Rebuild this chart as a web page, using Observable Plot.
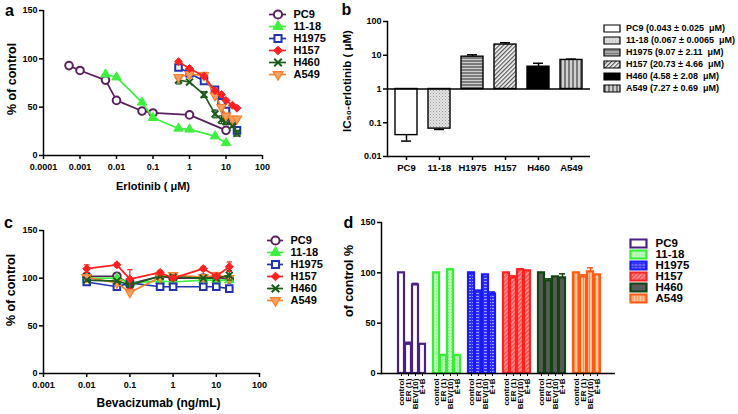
<!DOCTYPE html>
<html><head><meta charset="utf-8">
<script src="https://cdn.jsdelivr.net/npm/d3@7"></script>
<script src="https://cdn.jsdelivr.net/npm/@observablehq/plot@0.6"></script>
<style>
body{margin:0;background:#fff;}
#fig{position:relative;width:738px;height:414px;overflow:hidden;font-family:'Liberation Sans',Arial,sans-serif;font-weight:bold;}
</style></head><body>
<svg width="0" height="0" style="position:absolute">
<defs>
<pattern id="pb1118" width="3" height="3" patternUnits="userSpaceOnUse"><rect width="3" height="3" fill="#e4e4e4"/><rect width="1" height="1" fill="#9a9a9a"/><rect x="1.5" y="1.5" width="1" height="1" fill="#b0b0b0"/></pattern>
<pattern id="pbH1975" width="4" height="3" patternUnits="userSpaceOnUse"><rect width="4" height="3" fill="#7c7c7c"/><rect y="2" width="4" height="1" fill="#cfcfcf"/></pattern>
<pattern id="pbH157" width="3" height="3" patternUnits="userSpaceOnUse" patternTransform="rotate(45)"><rect width="3" height="3" fill="#f4f4f4"/><rect width="1.2" height="3" fill="#555"/></pattern>
<pattern id="pbA549" width="4" height="4" patternUnits="userSpaceOnUse"><rect width="4" height="4" fill="#d0d0d0"/><rect width="2" height="4" fill="#7a7a7a"/></pattern>
<pattern id="pd1118" width="3" height="3" patternUnits="userSpaceOnUse"><rect width="3" height="3" fill="#bdf8bd"/><rect width="1" height="1" fill="#7fe87f"/></pattern>
<pattern id="pdH1975" width="4" height="3" patternUnits="userSpaceOnUse"><rect width="4" height="3" fill="#3030ff"/><rect y="2" width="3" height="1" fill="#a0a0ff"/></pattern>
<pattern id="pdH157" width="3" height="3" patternUnits="userSpaceOnUse" patternTransform="rotate(45)"><rect width="3" height="3" fill="#ff5a5a"/><rect width="1" height="3" fill="#ffa0a0"/></pattern>
<pattern id="pdA549" width="3" height="4" patternUnits="userSpaceOnUse"><rect width="3" height="4" fill="#ffc8a0"/><rect width="1" height="4" fill="#ff8a4a"/></pattern>
</defs></svg>
<div id="fig"></div>
<script>
// ---------- DATA ----------
const lines = ["PC9", "11-18", "H1975", "H157", "H460", "A549"];

// Panel a: erlotinib dose response (% of control)
const erlConcPC9 = [0.0005, 0.001, 0.005, 0.01, 0.05, 0.1, 1, 10];
const erlPC9 = [93, 88, 78, 57, 46, 44, 42, 26];
const erlErrPC9 = [3, 0, 0, 0, 0, 0, 0, 0];
const erlConc1118 = [0.005, 0.01, 0.05, 0.1, 0.5, 1, 5, 10];
const erl1118 = [84, 81, 55, 39, 28, 27, 20, 13];
const erlConcHigh = [0.5, 1, 2.5, 5, 7.5, 10, 15, 20];
const erlH1975 = [91, 85, 77, 68, 55, 46, 36, 26];
const erlH157 = [97, 90, 82, 67, 63, 57, 52, 49];
const erlH460 = [78, 76, 63, 43, 37, 35, 31, 23];
const erlErrH460 = [4, 0, 3, 4, 4, 3, 2, 3];
const erlA549 = [81, 84, 83, 62, 50, 41, 38, 38];
const erlErrA549 = [0, 0, 3, 0, 0, 0, 0, 0];

// Panel b: IC50 of erlotinib (uM) and plotted error
const ic50 = [0.043, 0.067, 9.07, 20.73, 4.58, 7.27];
const ic50Err = [0.0144, 0.0038, 1.22, 2.69, 1.20, 0.40];
const ic50Legend = ["PC9 (0.043 ± 0.025  μM)", "11-18 (0.067 ± 0.0065  μM)", "H1975 (9.07 ± 2.11  μM)",
  "H157 (20.73 ± 4.66  μM)", "H460 (4.58 ± 2.08  μM)", "A549 (7.27 ± 0.69  μM)"];

// Panel c: bevacizumab dose response (% of control)
const bevConc = [0.01, 0.05, 0.1, 0.5, 1, 5, 10, 20];
const bevPC9 = [102, 102, 94, 102, 100, 100, 101, 99];
const bev1118 = [100, 100, 95, 97, 96, 98, 98, 98];
const bevH1975 = [96, 91, 95, 91, 91, 91, 91, 89];
const bevH157 = [110, 114, 99, 106, 100, 110, 102, 112];
const bevErrH157 = [4, 2, 10, 2, 2, 2, 2, 5];
const bevH460 = [98, 97, 93, 102, 101, 100, 100, 103];
const bevErrH460 = [0, 0, 0, 0, 0, 0, 0, 5];
const bevA549 = [101, 95, 85, 101, 103, 101, 103, 100];
const bevErrA549 = [0, 0, 0, 0, 0, 0, 3, 0];

// Panel d: combination (% of control)
const conditions = ["control", "ER (1)", "BEV(10)", "E+B"];
const combPC9 = [100, 29, 88, 29];
const comb1118 = [100, 18, 103, 18];
const combH1975 = [100, 82, 98, 79];
const combH157 = [100, 95, 103, 102];
const combH460 = [100, 92, 96, 95];
const combA549 = [100, 96, 101, 98];
const combErrPC9 = [0, 2, 1.5, 0];
const combErr1118 = [0, 0, 1, 0];
const combErrH1975 = [0, 0, 0, 2];
const combErrH157 = [0, 2, 1, 0];
const combErrH460 = [0, 2, 0, 4];
const combErrA549 = [0, 2, 4, 0];

// ---------- STYLES ----------
const FONT = "'Liberation Sans', Arial, sans-serif";
function sty(fs) { return {background: "transparent", fontFamily: FONT, fontWeight: "bold", fontSize: fs + "px", color: "black", overflow: "visible"}; }
const fig = document.getElementById("fig");
function place(el, left, top) { el.style.position = "absolute"; el.style.left = left + "px"; el.style.top = top + "px"; fig.appendChild(el); }
const s3 = Math.sqrt(3);
const triDown = {draw(ctx, size) { const y = -Math.sqrt(size / (s3 * 3)); ctx.moveTo(0, -y * 2); ctx.lineTo(-s3 * y, y); ctx.lineTo(s3 * y, y); ctx.closePath(); }};
const capSym = {draw(ctx, size) { const w = Math.sqrt(size) / 2; ctx.moveTo(-w, 0); ctx.lineTo(w, 0); }};
const SER = {
  "PC9":   {color: "#5a1f5f", symbol: "circle",   fill: "white",   r: 3.8, sw: 2},
  "11-18": {color: "#3ef03e", symbol: "triangle", fill: "#3ef03e", r: 3.5, sw: 1},
  "H1975": {color: "#2233b0", symbol: "square",   fill: "white",   r: 3.7, sw: 2},
  "H157":  {color: "#ff2020", symbol: "diamond2", fill: "#ff2020", r: 3.6, sw: 1},
  "H460":  {color: "#1a5a1a", symbol: "times",    fill: "none",    r: 3.2, sw: 2},
  "A549":  {color: "#f5802e", symbol: triDown,    fill: "#f8a060", r: 3.4, sw: 1.2}
};
const labelOpts = {textAnchor: "middle", lineAnchor: "middle", fontWeight: "bold"};

function curveMarks(name, xs, ys, es) {
  const st = SER[name];
  const data = xs.map((x, i) => ({x, y: ys[i], e: es ? es[i] : 0}));
  const ed = data.filter(d => d.e > 0);
  return [
    Plot.ruleX(ed, {x: "x", y1: d => d.y - d.e, y2: d => d.y + d.e, stroke: st.color, strokeWidth: 1.2}),
    Plot.dot(ed, {x: "x", y: d => d.y + d.e, symbol: capSym, r: 3, fill: "none", stroke: st.color, strokeWidth: 1.2}),
    Plot.dot(ed, {x: "x", y: d => d.y - d.e, symbol: capSym, r: 3, fill: "none", stroke: st.color, strokeWidth: 1.2}),
    Plot.line(data, {x: "x", y: "y", stroke: st.color, strokeWidth: 1.7}),
    Plot.dot(data, {x: "x", y: "y", symbol: st.symbol, r: st.r, fill: st.fill, stroke: st.color, strokeWidth: st.sw})
  ];
}

function lineLegend(left, top, rangeY, segL, segR, symX, textX, width) {
  const marks = [];
  for (const name of lines) {
    const st = SER[name];
    marks.push(Plot.ruleY([name], {y: d => d, stroke: st.color, strokeWidth: 1.7, insetLeft: segL, insetRight: width - segR}));
    marks.push(Plot.dot([name], {y: d => d, frameAnchor: "left", dx: symX, symbol: st.symbol, r: st.r + 0.3, fill: st.fill, stroke: st.color, strokeWidth: st.sw}));
  }
  marks.push(Plot.text(lines, {y: d => d, text: d => d, frameAnchor: "left", dx: textX, textAnchor: "start", fontSize: 11, fontWeight: "bold"}));
  const p = Plot.plot({width, height: 100, margin: 0, style: sty(11),
    y: {type: "point", domain: lines, range: rangeY, axis: null}, marks});
  place(p, left, top);
}

// ---------- PANEL a ----------
const logTicksA = [0.0001, 0.001, 0.01, 0.1, 1, 10, 100];
const pa = Plot.plot({
  width: 268, height: 200, marginLeft: 43, marginRight: 6, marginTop: 10, marginBottom: 45,
  style: sty(9),
  x: {type: "log", domain: [0.0001, 100], label: null},
  y: {domain: [0, 150], label: null},
  marks: [
    ...curveMarks("PC9", erlConcPC9, erlPC9, erlErrPC9),
    ...curveMarks("11-18", erlConc1118, erl1118),
    ...curveMarks("H1975", erlConcHigh, erlH1975),
    ...curveMarks("H460", erlConcHigh, erlH460, erlErrH460),
    ...curveMarks("A549", erlConcHigh, erlA549, erlErrA549),
    ...curveMarks("H157", erlConcHigh, erlH157),
    Plot.ruleX([0.0001], {strokeWidth: 1.5}),
    Plot.ruleY([0], {strokeWidth: 1.5}),
    Plot.axisY({ticks: [0, 50, 100, 150], tickSize: 4, tickPadding: 2, strokeWidth: 1.5, label: null}),
    Plot.axisX({ticks: logTicksA, tickFormat: d => String(d), tickSize: 4, tickPadding: 4, strokeWidth: 1.5, label: null}),
    Plot.text(["Erlotinib ( μM)"], {frameAnchor: "bottom", dy: 31, fontSize: 11, ...labelOpts}),
    Plot.text(["% of control"], {frameAnchor: "left", rotate: -90, dx: -32, dy: -4, fontSize: 12.5, ...labelOpts}),
    Plot.text(["a"], {frameAnchor: "top-left", dx: -34, dy: 0, fontSize: 16, ...labelOpts})
  ]
});
place(pa, 0, 0);
lineLegend(262, 0, [5.5, 82.5], 7, 24, 15.5, 31, 90);

// ---------- PANEL b ----------
const bPat = {"PC9": "white", "11-18": "url(#pb1118)", "H1975": "url(#pbH1975)", "H157": "url(#pbH157)", "H460": "black", "A549": "url(#pbA549)"};
const bData = lines.map((l, i) => ({line: l, v: ic50[i], end: ic50[i] < 1 ? ic50[i] - ic50Err[i] : ic50[i] + ic50Err[i]}));
const pb = Plot.plot({
  width: 255, height: 200, marginLeft: 47, marginRight: 5, marginTop: 21, marginBottom: 44,
  style: sty(9),
  x: {type: "band", domain: lines, range: [47, 250], paddingInner: 0.32, paddingOuter: 0.16, label: null},
  y: {type: "log", domain: [0.01, 100], label: null},
  color: {type: "identity"},
  marks: [
    Plot.ruleX(bData, {x: "line", y1: "v", y2: "end", strokeWidth: 1.5}),
    Plot.tickY(bData, {x: "line", y: "end", insetLeft: 6, insetRight: 6, strokeWidth: 1.5}),
    Plot.barY(bData, {x: "line", y1: 1, y2: "v", fill: d => bPat[d.line], stroke: "black", strokeWidth: 1.4}),
    Plot.ruleY([1], {strokeWidth: 1.5}),
    Plot.ruleY([0.01], {strokeWidth: 1.5}),
    Plot.frame({anchor: "left", strokeWidth: 1.5}),
    Plot.axisY({ticks: [0.01, 0.1, 1, 10, 100], tickFormat: d => String(d), tickSize: 4, tickPadding: 2, strokeWidth: 1.5, label: null}),
    Plot.axisX({tickSize: 4, tickPadding: 4, strokeWidth: 1.5, fontSize: 9.5, label: null}),
    Plot.text(["IC₅₀-erlotinib ( μM)"], {frameAnchor: "left", rotate: -90, dx: -40, dy: -8, fontSize: 11.5, ...labelOpts}),
    Plot.text(["b"], {frameAnchor: "top-left", dx: -41, dy: -12, fontSize: 16, ...labelOpts})
  ]
});
place(pb, 340, 0);

// legend b
const rectSymB = {draw(ctx) { ctx.rect(-8, -3.5, 16, 7); }};
const pbl = Plot.plot({
  width: 143, height: 100, margin: 0, style: sty(9),
  y: {type: "point", domain: lines, range: [11.7, 85], axis: null},
  color: {type: "identity"},
  marks: [
    Plot.dot(lines, {y: d => d, frameAnchor: "left", dx: 16.5, symbol: rectSymB, fill: d => bPat[d], stroke: "black", strokeWidth: 1.2}),
    Plot.text(lines, {y: d => d, text: (d, i) => ic50Legend[i], frameAnchor: "left", dx: 30.5, textAnchor: "start", fontSize: 9, fontWeight: "bold"})
  ]
});
place(pbl, 595, 10);

// ---------- PANEL c ----------
const pc = Plot.plot({
  width: 264, height: 204, marginLeft: 43, marginRight: 5, marginTop: 20, marginBottom: 41,
  style: sty(9),
  x: {type: "log", domain: [0.001, 100], label: null},
  y: {domain: [0, 150], label: null},
  marks: [
    ...curveMarks("PC9", bevConc, bevPC9),
    ...curveMarks("11-18", bevConc, bev1118),
    ...curveMarks("H1975", bevConc, bevH1975),
    ...curveMarks("A549", bevConc, bevA549, bevErrA549),
    ...curveMarks("H460", bevConc, bevH460, bevErrH460),
    ...curveMarks("H157", bevConc, bevH157, bevErrH157),
    Plot.ruleX([0.001], {strokeWidth: 1.5}),
    Plot.ruleY([0], {strokeWidth: 1.5}),
    Plot.axisY({ticks: [0, 50, 100, 150], tickSize: 4, tickPadding: 2, strokeWidth: 1.5, label: null}),
    Plot.axisX({ticks: [0.001, 0.01, 0.1, 1, 10, 100], tickFormat: d => String(d), tickSize: 4, tickPadding: 4, strokeWidth: 1.5, label: null}),
    Plot.text(["Bevacizumab (ng/mL)"], {frameAnchor: "bottom", dx: 7, dy: 30, fontSize: 12, ...labelOpts}),
    Plot.text(["% of control"], {frameAnchor: "left", rotate: -90, dx: -33, dy: -12, fontSize: 12.5, ...labelOpts}),
    Plot.text(["c"], {frameAnchor: "top-left", dx: -35, dy: -8, fontSize: 16, ...labelOpts})
  ]
});
place(pc, 0, 210);
lineLegend(262, 220, [12, 87], 5, 21, 13, 28, 90);

// ---------- PANEL d ----------
const dCol = {"PC9": "#4a2088", "11-18": "#33f033", "H1975": "#1a1aff", "H157": "#ff2020", "H460": "#124512", "A549": "#ff5a14"};
const dPat = {"PC9": "white", "11-18": "url(#pd1118)", "H1975": "url(#pdH1975)", "H157": "url(#pdH157)", "H460": "#595959", "A549": "url(#pdA549)"};
const combVals = {"PC9": combPC9, "11-18": comb1118, "H1975": combH1975, "H157": combH157, "H460": combH460, "A549": combA549};
const combErrs = {"PC9": combErrPC9, "11-18": combErr1118, "H1975": combErrH1975, "H157": combErrH157, "H460": combErrH460, "A549": combErrA549};
const dKeys = [];
const dData = [];
lines.forEach((g, gi) => {
  dKeys.push("gap" + gi);
  conditions.forEach((c, ci) => {
    const key = g + "|" + c;
    dKeys.push(key);
    dData.push({key, g, v: combVals[g][ci], e: combErrs[g][ci]});
  });
});
const dErrData = dData.filter(d => d.e > 0);
const pd = Plot.plot({
  width: 280, height: 204, marginLeft: 41, marginRight: 5, marginTop: 12, marginBottom: 41,
  style: sty(9),
  x: {type: "band", domain: dKeys, range: [41, 271], paddingInner: 0.12, paddingOuter: 0.06, label: null},
  y: {domain: [0, 150], label: null},
  color: {type: "identity"},
  marks: [
    Plot.ruleX(dErrData, {x: "key", y1: "v", y2: d => d.v + d.e, stroke: d => dCol[d.g], strokeWidth: 1.5}),
    Plot.tickY(dErrData, {x: "key", y: d => d.v + d.e, stroke: d => dCol[d.g], strokeWidth: 1.5}),
    Plot.barY(dData, {x: "key", y: "v", fill: d => dPat[d.g], stroke: d => dCol[d.g], strokeWidth: 2.2}),
    Plot.ruleY([0], {strokeWidth: 1.5}),
    Plot.frame({anchor: "left", strokeWidth: 1.5}),
    Plot.axisY({ticks: [0, 50, 100, 150], tickSize: 4, tickPadding: 2, strokeWidth: 1.5, label: null}),
    Plot.axisX({ticks: dKeys.filter(k => !k.startsWith("gap")), tickFormat: k => k.split("|")[1], tickRotate: -90, tickSize: 3, tickPadding: 2, strokeWidth: 1, fontSize: 8, label: null}),
    Plot.text(["of control %"], {frameAnchor: "left", rotate: -90, dx: -33, dy: -17, fontSize: 12.5, ...labelOpts}),
    Plot.text(["d"], {frameAnchor: "top-left", dx: -33, dy: 0, fontSize: 16, ...labelOpts})
  ]
});
place(pd, 340, 210);

// legend d
const rectSymD = {draw(ctx) { ctx.rect(-8, -4, 16, 8); }};
const pdl = Plot.plot({
  width: 118, height: 95, margin: 0, style: sty(12),
  y: {type: "point", domain: lines, range: [11.7, 80], axis: null},
  color: {type: "identity"},
  marks: [
    Plot.dot(lines, {y: d => d, frameAnchor: "left", dx: 18, symbol: rectSymD, fill: d => dPat[d], stroke: d => dCol[d], strokeWidth: 2.2}),
    Plot.text(lines, {y: d => d, text: d => d, frameAnchor: "left", dx: 35, textAnchor: "start", fontSize: 11.5, fontWeight: "bold"})
  ]
});
place(pdl, 620, 225);
</script>
</body></html>
